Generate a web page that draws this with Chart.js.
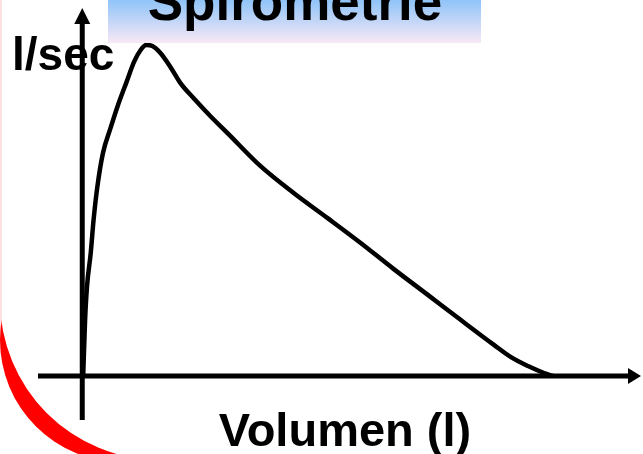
<!DOCTYPE html>
<html>
<head>
<meta charset="utf-8">
<title>Spirometrie</title>
<script src="https://cdn.jsdelivr.net/npm/chart.js@4"></script>
<style>
  html, body { margin: 0; padding: 0; background: #fff; overflow: hidden; }
  #spiro { display: block; }
</style>
</head>
<body>
<canvas id="spiro" width="643" height="454"></canvas>
<script>
// flow-volume curve (volume in l, flow in l/sec, arbitrary scale)
const volume = [0.01, 0.03, 0.05, 0.09, 0.12, 0.16, 0.22, 0.30, 0.38, 0.47, 0.55, 0.62, 0.68, 0.745, 0.83, 0.936,
                1.043, 1.181, 1.362, 1.543, 1.894, 2.245, 2.606, 2.957, 3.309, 3.67, 4.021, 4.372, 4.553, 4.734, 4.904, 5.00];
const flow   = [0.00, 1.69, 2.69, 3.72, 4.71, 5.71, 6.74, 7.49, 8.19, 8.88, 9.49, 9.85, 10.0, 9.97, 9.76, 9.34,
                8.85, 8.40, 7.85, 7.34, 6.34, 5.53, 4.77, 4.02, 3.23, 2.45, 1.69, 0.94, 0.57, 0.30, 0.09, 0.00];

const titleText = 'Spirometrie';
const yLabel = 'l/sec';
const xLabel = 'Volumen (l)';

const FONT = '"Liberation Sans", Arial, sans-serif';

const points = volume.map((v, i) => ({ x: v, y: flow[i] }));

// slide decoration, title box, axes with arrows and the labels
const slideDeco = {
  id: 'slideDeco',
  beforeDraw(chart) {
    const ctx = chart.ctx;
    ctx.save();
    ctx.fillStyle = '#ffe0e0';
    ctx.fillRect(0, 0, 2, 335);
    // red rounded slide border (only the corner shows)
    ctx.beginPath();
    ctx.rect(0, 0, chart.width, chart.height);
    ctx.arc(160, 300, 160, 0, Math.PI * 2, true);
    ctx.clip('evenodd');
    ctx.beginPath();
    ctx.arc(122, 340, 122, 0, Math.PI * 2);
    ctx.fillStyle = '#ff0000';
    ctx.fill();
    ctx.restore();
  },
  beforeDatasetsDraw(chart) {
    const ctx = chart.ctx;
    const xs = chart.scales.x, ys = chart.scales.y;
    const x0 = xs.getPixelForValue(0);
    const y0 = ys.getPixelForValue(0);
    const { left, right, top, bottom } = chart.chartArea;
    ctx.save();
    ctx.strokeStyle = '#000';
    ctx.fillStyle = '#000';
    ctx.lineWidth = 5;
    ctx.lineCap = 'butt';
    // x axis
    ctx.beginPath();
    ctx.moveTo(left, y0);
    ctx.lineTo(right - 10, y0);
    ctx.stroke();
    ctx.beginPath();
    ctx.moveTo(right, y0);
    ctx.lineTo(right - 13, y0 - 8);
    ctx.lineTo(right - 13, y0 + 8);
    ctx.closePath();
    ctx.fill();
    // y axis
    ctx.beginPath();
    ctx.moveTo(x0, bottom);
    ctx.lineTo(x0, top + 12);
    ctx.stroke();
    ctx.beginPath();
    ctx.moveTo(x0, top);
    ctx.lineTo(x0 - 8, top + 16);
    ctx.lineTo(x0 + 8, top + 16);
    ctx.closePath();
    ctx.fill();

    // labels
    ctx.textBaseline = 'alphabetic';
    ctx.textAlign = 'left';
    ctx.font = 'bold 46px ' + FONT;
    ctx.fillText(yLabel, 12, 70);
    ctx.font = 'bold 47px ' + FONT;
    ctx.textAlign = 'center';
    ctx.fillText(xLabel, 345, 446);
    ctx.restore();
  },
  afterDatasetsDraw(chart) {
    const ctx = chart.ctx;
    ctx.save();
    // title box with blue to pink gradient, cut at the top edge
    const g = ctx.createLinearGradient(0, 0, 0, 43);
    g.addColorStop(0, '#8fc4f8');
    g.addColorStop(1, '#f9e8f6');
    ctx.fillStyle = g;
    ctx.fillRect(108, 0, 373, 43);
    ctx.fillStyle = '#000';
    ctx.font = 'bold 53px ' + FONT;
    ctx.textAlign = 'center';
    ctx.textBaseline = 'alphabetic';
    ctx.fillText(titleText, 295, 20);
    ctx.restore();
  }
};

const ctx = document.getElementById('spiro').getContext('2d');
const config = {
  type: 'line',
  data: {
    datasets: [{
      label: 'Fluss',
      data: points,
      borderColor: '#000',
      borderWidth: 4.5,
      pointRadius: 0,
      fill: false,
      cubicInterpolationMode: 'monotone',
      clip: false
    }]
  },
  options: {
    responsive: false,
    animation: false,
    devicePixelRatio: 1,
    layout: { padding: { left: 38, right: 2, top: 8, bottom: 34 } },
    scales: {
      x: { type: 'linear', min: -0.47, max: 5.934, display: false },
      y: { type: 'linear', min: -1.33, max: 11.12, display: false }
    },
    plugins: {
      legend: { display: false },
      tooltip: { enabled: false }
    }
  },
  plugins: [slideDeco]
};
const spiroChart = new Chart(ctx, config);
</script>
</body>
</html>
